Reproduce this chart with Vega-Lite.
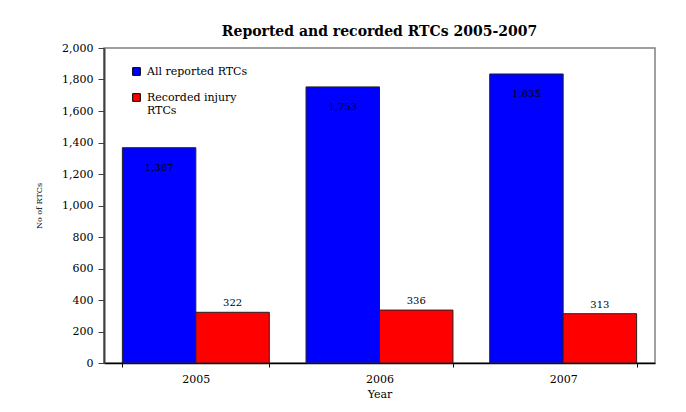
{
  "$schema": "https://vega.github.io/schema/vega-lite/v6.json",
  "width": 551,
  "height": 315,
  "autosize": {"type": "none"},
  "padding": {"left": 104, "top": 48, "right": 31, "bottom": 49},
  "background": "white",
  "title": {
    "text": "Reported and recorded RTCs 2005-2007",
    "font": "DejaVu Serif",
    "fontSize": 14,
    "fontWeight": "bold",
    "color": "black",
    "anchor": "middle",
    "offset": 3
  },
  "config": {
    "view": {"stroke": "#808080", "strokeWidth": 1.5},
    "font": "DejaVu Serif"
  },
  "data": {
    "values": [
      {"Year": "2005", "Series": "All reported RTCs", "Value": 1367},
      {"Year": "2005", "Series": "Recorded injury RTCs", "Value": 322},
      {"Year": "2006", "Series": "All reported RTCs", "Value": 1753},
      {"Year": "2006", "Series": "Recorded injury RTCs", "Value": 336},
      {"Year": "2007", "Series": "All reported RTCs", "Value": 1835},
      {"Year": "2007", "Series": "Recorded injury RTCs", "Value": 313}
    ]
  },
  "encoding": {
    "x": {
      "field": "Year",
      "type": "nominal",
      "scale": {"paddingInner": 0.2, "paddingOuter": 0.1},
      "axis": {
        "title": "Year",
        "labelAngle": 0,
        "labelFont": "DejaVu Serif",
        "labelFontSize": 11,
        "labelColor": "black",
        "labelPadding": 6,
        "titleFont": "DejaVu Serif",
        "titleFontSize": 11,
        "titleFontWeight": "normal",
        "titleColor": "black",
        "titlePadding": 4,
        "domainColor": "black",
        "domainWidth": 1.5,
        "tickColor": "black",
        "tickBand": "extent",
        "tickSize": 4
      }
    },
    "xOffset": {"field": "Series", "type": "nominal", "sort": ["All reported RTCs", "Recorded injury RTCs"]},
    "y": {
      "field": "Value",
      "type": "quantitative",
      "scale": {"domain": [0, 2000]},
      "axis": {
        "title": "No of RTCs",
        "values": [0, 200, 400, 600, 800, 1000, 1200, 1400, 1600, 1800, 2000],
        "format": ",.0f",
        "grid": false,
        "labelFont": "DejaVu Serif",
        "labelFontSize": 11,
        "labelColor": "black",
        "labelPadding": 5,
        "titleFont": "DejaVu Serif",
        "titleFontSize": 8,
        "titleFontWeight": "normal",
        "titleColor": "black",
        "titlePadding": 18,
        "domainColor": "#404040",
        "domainWidth": 2,
        "tickColor": "#404040",
        "tickSize": 6
      }
    }
  },
  "layer": [
    {
      "mark": {"type": "bar", "stroke": "#222222", "strokeWidth": 1},
      "encoding": {
        "color": {
          "field": "Series",
          "type": "nominal",
          "scale": {"domain": ["All reported RTCs", "Recorded injury RTCs"], "range": ["#0000FF", "#FF0000"]},
          "legend": {
            "title": null,
            "orient": "none",
            "legendX": 27,
            "legendY": 18,
            "symbolType": "square",
            "symbolSize": 60,
            "symbolStrokeColor": "black",
            "symbolStrokeWidth": 1,
            "labelFont": "DejaVu Serif",
            "labelFontSize": 11,
            "labelColor": "black",
            "labelOffset": 5,
            "rowPadding": 13,
            "labelExpr": "datum.label == 'Recorded injury RTCs' ? ['Recorded injury', 'RTCs'] : datum.label"
          }
        }
      }
    },
    {
      "transform": [{"filter": "datum.Series == 'All reported RTCs'"}],
      "mark": {"type": "text", "baseline": "middle", "dy": 20, "fontSize": 10, "color": "black", "font": "DejaVu Serif"},
      "encoding": {"text": {"field": "Value", "type": "quantitative", "format": ",.0f"}}
    },
    {
      "transform": [{"filter": "datum.Series == 'Recorded injury RTCs'"}],
      "mark": {"type": "text", "baseline": "bottom", "dy": -4, "fontSize": 10, "color": "black", "font": "DejaVu Serif"},
      "encoding": {"text": {"field": "Value", "type": "quantitative", "format": ",.0f"}}
    }
  ]
}
